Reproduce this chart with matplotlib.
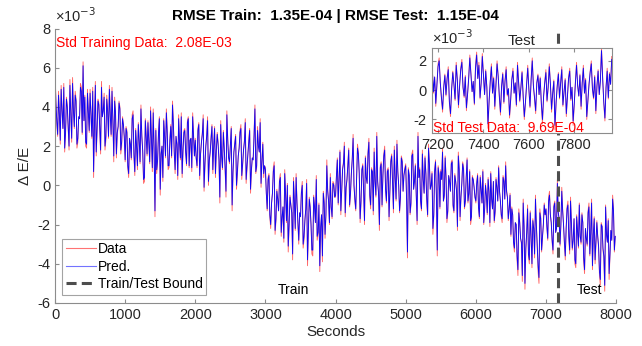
import matplotlib
matplotlib.use("Agg")
import matplotlib.pyplot as plt
import numpy as np

plt.rcParams['font.family'] = ['Liberation Sans', 'DejaVu Sans']
plt.rcParams['axes.unicode_minus'] = False

# values in units of 1e-3; *_vals sampled at 0, 25, 50 ... s, *_mid at 12.5, 37.5 ... s
data_vals = [
    6.0, 3.2, 4.8, 2.1, 3.9, 5.2, 2.6, 4.1, 1.8, 3.7, 5.5, 2.9, 4.4, 2.2, 3.4, 5.0, 6.3, 4.6, 1.9, 3.8,
    4.9, 2.4, 0.4, 5.3, 2.8, 4.2, 1.6, 3.5, 4.7, 2.3, 3.9, 5.1, 2.5, 3.3, 4.5, 1.4, 3.0, 4.0, 2.0, 3.1,
    1.2, 2.8, 0.4, 2.1, 3.6, 1.5, 2.9, 0.8, 2.3, 4.1, 1.7, 0.2, 2.6, 3.3, 1.1, 2.4, 3.9, -1.6, 0.6, 2.7,
    -0.5, 2.0, 3.4, 1.4, 2.8, 0.9, 3.1, 4.3, 1.6, 2.5, 0.3, 2.2, 3.7, 1.8, 2.9, 1.0, 3.5, 2.3, 0.7, 2.6,
    2.4, 0.9, 3.2, 1.6, 2.7, -0.3, 2.0, 3.5, 1.2, 2.5, 0.6, 3.0, 1.8, 2.2, -0.9, 1.5, 2.8, 0.8, 3.8, 1.4,
    2.1, -1.3, 1.7, 2.6, 0.5, 1.9, 3.1, 1.0, 2.3, 0.1, 1.6, 2.9, 0.7, 1.3, 4.1, 0.9, 2.0, 3.4, 1.2, 0.4,
    0.9, -1.3, 0.6, -2.2, -0.4, 1.2, -1.8, -0.7, 0.3, -2.6, -1.1, 0.8, -1.9, -3.4, -0.5, -1.4, 0.4, -2.3, -0.9, -3.0,
    -1.6, 0.2, -2.8, -1.2, -4.1, -0.6, -2.0, -3.6, -1.0, 0.5, -2.5, -4.4, -1.5, -0.3, -2.7, 1.3, -0.8, 0.6, -1.7, 0.1,
    -0.6, 1.4, 0.3, -1.5, 0.9, 2.2, -0.2, 1.1, -1.1, 0.6, 2.6, -0.8, 0.4, 1.7, -1.9, 0.8, -0.4, 1.5, 0.1, 2.4,
    -1.2, 0.7, 1.9, -0.6, 0.2, -2.3, 1.2, 0.5, 2.0, -0.9, 0.9, -0.3, 1.6, -1.4, 0.4, 2.3, 0.0, -0.7, 1.3, 0.6,
    1.1, -3.7, 0.5, -1.0, 1.8, 0.2, -0.5, 2.7, 0.9, -1.3, 0.3, 1.5, -0.8, 2.1, -0.2, 0.7, -1.6, 1.3, -3.6, 0.6,
    0.8, 1.9, -0.6, 0.4, -1.4, 0.2, 1.2, -1.1, 0.6, -0.3, 1.7, -1.8, 0.1, 0.9, -0.9, 1.4, -0.4, -2.0, 0.5, -0.1,
    -0.9, 0.6, -1.7, -0.2, 0.8, -1.3, -0.5, 0.4, -2.1, -0.7, 0.2, -1.4, -0.1, 1.0, -0.8, -1.9, 0.3, 1.2, -0.6, -1.2,
    -2.6, -1.5, -3.4, -2.0, -4.6, -1.8, -3.0, -0.7, -5.3, -2.4, -3.6, -1.3, -4.2, -2.2, -0.5, -3.1, -5.0, -1.6, -2.7, -0.9,
    -1.2, -2.8, -0.3, -1.9, -3.5, -0.8, -2.2, -1.4, -3.1, -0.1, -2.0, -3.8, -1.1, -2.6, -0.6, -3.3, -1.7, -4.2, -2.4, -0.9,
    -3.0, -1.9, -4.5, -2.7, -1.3, -3.6, -0.7, -2.5, -4.0, -1.8, -3.2, -5.1, -2.1, -3.7, -1.0, -2.9, -4.8, -2.3, -0.5, -3.4,
]
data_mid = [
    4.3, 2.5, 3.6, 5.1, 2.9, 1.7, 4.5, 3.0, 5.4, 2.2, 3.9, 4.8, 1.9, 3.5, 5.2, 2.6, 3.3, 2.0, 4.9, 2.7,
    3.6, 5.0, 3.1, 1.5, 4.4, 2.8, 5.3, 3.9, 1.8, 4.6, 2.4, 3.7, 5.0, 1.2, 3.8, 2.6, 4.3, 1.6, 3.5, 2.4,
    3.0, 0.9, 2.4, 1.3, 3.8, 0.5, 2.0, 3.2, 1.1, 2.6, 0.1, 3.4, 1.5, 2.2, 4.0, 0.7, 1.9, 2.9, 1.2, 3.5,
    1.6, 0.2, 2.5, 3.9, 0.8, 2.3, 1.4, 3.2, 0.6, 2.1, 3.6, 1.3, 0.4, 2.8, 1.7, 3.3, 0.9, 2.4, 3.7, 1.5,
    1.4, 2.9, 0.3, 2.2, 3.6, 1.0, 2.6, 0.0, 1.7, 3.1, 2.0, 0.4, 2.7, 1.3, 3.3, 0.8, 1.9, -0.6, 2.4, 1.1,
    3.0, 0.6, 2.2, -0.2, 1.5, 2.8, 0.3, 1.8, 3.4, 0.9, 2.3, -0.4, 1.4, 2.6, 0.6, 3.0, 1.7, -0.1, 2.2, 1.0,
    -0.4, 0.4, -1.6, -0.9, 0.9, -2.5, -0.2, -1.3, 0.6, -1.7, -2.9, -0.4, 0.1, -2.1, -1.0, -3.8, -0.7, 0.6, -2.0, -1.4,
    -0.3, -3.2, -1.8, 0.3, -2.4, -1.1, -3.5, -0.5, -1.9, -2.8, -0.9, -2.2, -3.9, -0.8, -1.5, -0.2, -2.0, -1.1, 0.2, -0.6,
    0.5, -1.0, 1.8, -0.3, 1.2, -1.6, 0.3, 1.9, -0.5, 1.4, 0.0, -1.3, 2.1, 0.6, -0.9, 1.1, -2.0, 0.4, 1.7, -0.6,
    0.9, -1.5, 0.2, 2.7, -0.4, 1.0, -1.1, 1.6, -0.2, 0.8, -1.8, 1.3, 0.1, 2.0, -0.8, 0.7, -1.4, 1.5, -0.3, 0.9,
    -0.7, 0.9, -1.5, 1.6, -0.2, 1.1, -2.0, 0.4, -0.9, 1.8, -0.4, 0.6, -1.6, 1.2, 0.0, -2.5, 0.8, -0.5, 1.0, -1.2,
    0.3, -0.8, 1.5, -1.9, 0.5, -0.3, 1.3, -1.4, 0.2, -2.3, 0.9, -0.6, 1.2, -1.2, 0.4, -0.9, 0.8, -1.7, 0.3, -0.6,
    0.2, -1.1, 0.5, -0.9, -2.0, 0.1, -1.5, -0.3, 0.7, -1.2, -1.9, 0.4, -0.8, -0.3, -1.6, 0.5, -0.7, -0.2, -1.8, -0.4,
    -1.1, -3.0, -1.9, -3.8, -1.2, -2.7, -4.9, -2.1, -3.3, -1.0, -4.0, -2.6, -1.7, -3.7, -2.0, -4.4, -1.2, -3.4, -2.0, -1.5,
    -2.1, -0.6, -1.5, -2.9, -1.0, -2.4, 0.3, -1.7, -2.0, -1.2, -3.0, -2.2, -0.8, -3.5, -1.9, -2.8, -4.0, -1.5, -3.2, -2.6,
    -1.4, -3.9, -2.2, -3.1, -0.9, -2.4, -4.3, -1.6, -3.0, -2.6, -4.6, -1.9, -3.3, -5.4, -2.5, -1.7, -3.6, -2.8, -1.2, -2.6,
]
pred_vals = [
    5.7, 3.3, 4.6, 2.3, 3.8, 5.0, 2.7, 4.0, 2.0, 3.6, 5.2, 3.0, 4.3, 2.4, 3.4, 4.8, 6.1, 4.5, 2.1, 3.7,
    4.7, 2.5, 0.7, 5.1, 2.9, 4.1, 1.8, 3.5, 4.5, 2.5, 3.8, 4.9, 2.6, 3.3, 4.3, 1.6, 3.0, 3.9, 2.2, 3.1,
    1.3, 2.7, 0.6, 2.1, 3.4, 1.6, 2.8, 1.0, 2.3, 3.9, 1.8, 0.4, 2.5, 3.2, 1.2, 2.4, 3.7, -1.3, 0.8, 2.6,
    -0.2, 2.0, 3.3, 1.5, 2.7, 1.0, 3.0, 4.1, 1.7, 2.5, 0.5, 2.2, 3.5, 1.8, 2.8, 1.1, 3.4, 2.3, 0.9, 2.5,
    2.3, 1.0, 3.1, 1.6, 2.6, -0.1, 2.0, 3.3, 1.3, 2.4, 0.8, 2.9, 1.8, 2.1, -0.6, 1.5, 2.7, 0.9, 3.6, 1.4,
    2.0, -1.0, 1.7, 2.5, 0.7, 1.9, 2.9, 1.1, 2.2, 0.3, 1.6, 2.8, 0.8, 1.3, 3.9, 1.0, 2.0, 3.2, 1.2, 0.6,
    0.8, -1.2, 0.5, -2.0, -0.4, 1.0, -1.7, -0.7, 0.2, -2.4, -1.1, 0.6, -1.8, -3.1, -0.6, -1.4, 0.2, -2.2, -0.9, -2.8,
    -1.6, 0.0, -2.6, -1.2, -3.8, -0.7, -2.0, -3.3, -1.1, 0.3, -2.4, -4.1, -1.5, -0.4, -2.5, 1.0, -0.8, 0.4, -1.6, 0.0,
    -0.5, 1.3, 0.3, -1.3, 0.8, 2.0, -0.1, 1.0, -1.0, 0.6, 2.4, -0.7, 0.4, 1.6, -1.7, 0.8, -0.3, 1.4, 0.1, 2.2,
    -1.0, 0.7, 1.7, -0.5, 0.2, -2.0, 1.1, 0.5, 1.8, -0.8, 0.8, -0.2, 1.5, -1.2, 0.4, 2.1, 0.0, -0.6, 1.2, 0.5,
    1.0, -3.4, 0.5, -0.9, 1.6, 0.2, -0.5, 2.5, 0.8, -1.2, 0.3, 1.4, -0.7, 1.9, -0.2, 0.6, -1.5, 1.2, -3.3, 0.5,
    0.7, 1.7, -0.5, 0.4, -1.3, 0.2, 1.1, -1.0, 0.5, -0.3, 1.5, -1.6, 0.1, 0.8, -0.8, 1.3, -0.4, -1.8, 0.4, -0.1,
    -0.8, 0.5, -1.6, -0.2, 0.7, -1.2, -0.5, 0.3, -1.9, -0.7, 0.2, -1.3, -0.1, 0.9, -0.8, -1.7, 0.2, 1.0, -0.6, -1.2,
    -2.5, -1.5, -3.2, -2.0, -4.3, -1.9, -2.9, -0.9, -5.0, -2.4, -3.5, -1.4, -4.0, -2.2, -0.7, -3.0, -4.7, -1.7, -2.6, -1.0,
    -1.2, -2.7, -0.5, -1.9, -3.3, -0.9, -2.2, -1.4, -3.0, -0.3, -2.0, -3.6, -1.2, -2.6, -0.8, -3.2, -1.7, -4.0, -2.4, -1.0,
    -2.9, -1.9, -4.3, -2.7, -1.4, -3.5, -0.9, -2.5, -3.8, -1.9, -3.1, -4.8, -2.1, -3.6, -1.1, -2.9, -4.5, -2.3, -0.7, -3.3,
]
pred_mid = [
    4.2, 2.6, 3.6, 4.9, 2.9, 1.9, 4.4, 3.0, 5.1, 2.4, 3.8, 4.6, 2.1, 3.5, 5.0, 2.7, 3.3, 2.2, 4.7, 2.8,
    3.6, 4.8, 3.1, 1.7, 4.3, 2.9, 5.0, 3.8, 2.0, 4.4, 2.5, 3.6, 4.8, 1.5, 3.7, 2.7, 4.2, 1.8, 3.4, 2.5,
    2.9, 1.0, 2.4, 1.4, 3.6, 0.7, 2.0, 3.1, 1.2, 2.5, 0.3, 3.3, 1.6, 2.2, 3.8, 0.9, 1.9, 2.8, 1.3, 3.4,
    1.6, 0.4, 2.5, 3.7, 1.0, 2.3, 1.5, 3.1, 0.8, 2.1, 3.4, 1.4, 0.6, 2.7, 1.7, 3.2, 1.0, 2.4, 3.5, 1.5,
    1.4, 2.8, 0.5, 2.2, 3.4, 1.1, 2.5, 0.2, 1.7, 3.0, 2.0, 0.6, 2.6, 1.3, 3.1, 0.9, 1.9, -0.3, 2.3, 1.2,
    2.9, 0.7, 2.1, 0.0, 1.5, 2.7, 0.5, 1.8, 3.2, 1.0, 2.2, -0.2, 1.4, 2.5, 0.7, 2.8, 1.7, 0.1, 2.1, 1.0,
    -0.4, 0.3, -1.5, -0.9, 0.7, -2.3, -0.3, -1.3, 0.4, -1.6, -2.7, -0.5, 0.0, -2.0, -1.0, -3.5, -0.8, 0.4, -1.9, -1.4,
    -0.4, -3.0, -1.8, 0.1, -2.3, -1.1, -3.3, -0.6, -1.9, -2.6, -1.0, -2.1, -3.6, -0.9, -1.5, -0.3, -1.9, -1.1, 0.1, -0.6,
    0.5, -0.9, 1.7, -0.3, 1.1, -1.4, 0.3, 1.8, -0.4, 1.3, 0.0, -1.2, 1.9, 0.6, -0.8, 1.0, -1.8, 0.4, 1.6, -0.5,
    0.8, -1.3, 0.2, 2.5, -0.4, 0.9, -1.0, 1.5, -0.2, 0.7, -1.6, 1.2, 0.1, 1.8, -0.7, 0.7, -1.3, 1.4, -0.3, 0.8,
    -0.7, 0.8, -1.4, 1.5, -0.2, 1.0, -1.8, 0.4, -0.8, 1.6, -0.4, 0.6, -1.5, 1.1, 0.0, -2.2, 0.7, -0.5, 0.9, -1.1,
    0.3, -0.8, 1.4, -1.7, 0.5, -0.3, 1.2, -1.3, 0.2, -2.1, 0.8, -0.6, 1.1, -1.1, 0.4, -0.8, 0.7, -1.6, 0.3, -0.6,
    0.1, -1.1, 0.4, -0.9, -1.9, 0.0, -1.4, -0.3, 0.6, -1.2, -1.8, 0.3, -0.8, -0.3, -1.5, 0.4, -0.7, -0.3, -1.7, -0.5,
    -1.2, -2.9, -1.9, -3.6, -1.4, -2.7, -4.6, -2.1, -3.2, -1.2, -3.8, -2.6, -1.8, -3.5, -2.0, -4.1, -1.4, -3.3, -2.0, -1.5,
    -2.1, -0.8, -1.5, -2.8, -1.1, -2.4, 0.1, -1.7, -2.0, -1.3, -2.9, -2.2, -1.0, -3.3, -1.9, -2.8, -3.8, -1.6, -3.1, -2.6,
    -1.5, -3.7, -2.2, -3.0, -1.1, -2.4, -4.1, -1.7, -2.9, -2.6, -4.4, -2.0, -3.2, -5.1, -2.5, -1.8, -3.5, -2.8, -1.3, -2.6,
]
# merge the two sample grids in time order
data_all = np.column_stack([data_vals, data_mid]).ravel()
pred_all = np.column_stack([pred_vals, pred_mid]).ravel()
seconds = np.arange(len(data_all)) * 12.5

# test window (detrended), every 5 s from 7170 s, units of 1e-3
test_data = [
    0.6, 1.4, -0.2, 0.9, -1.1, 0.3, 1.8, 2.2, 0.5, -0.6, -1.5, 0.2, 1.1, -0.4, 0.8, 1.6, -0.9, -1.8, 0.1, 1.3,
    0.4, -0.7, 1.9, 0.7, -1.2, 0.3, 1.5, 2.1, 0.2, -0.5, 1.0, -1.4, -0.3, 0.9, 2.4, 1.2, -0.1, 0.6, -1.0, 1.7,
    2.6, 0.8, 1.9, -0.6, 0.5, 2.5, 1.1, -0.3, 1.4, 0.2, -2.6, -0.8, 0.6, 1.8, -0.2, 0.9, -1.3, 0.4, 2.0, 1.0,
    -0.5, -1.7, 0.3, 1.2, -0.9, 0.7, 1.6, -0.4, 0.1, -1.9, -0.7, 0.8, 1.5, -0.2, 0.5, -1.1, 1.9, 0.6, -0.8, 0.2,
    1.3, -0.5, -2.0, -0.9, 0.4, 1.7, 0.1, -1.2, 0.8, 2.2, 0.3, -0.6, -1.6, 0.5, 1.1, -0.3, 0.9, -1.0, -2.3, -0.4,
    0.6, 1.4, -0.8, 0.2, 1.8, 0.4, -1.5, -0.2, 0.7, -2.7, -0.9, 0.3, 1.2, -0.6, 0.5, 1.6, -1.1, -0.1, 0.8, -1.8,
    -0.5, 0.9, 1.5, -0.7, 0.2, -2.4, -1.0, 0.6, 1.9, 0.3, -0.4, 1.1, -1.3, 0.5, 1.7, -0.2, 0.8, -2.0, -0.8, 0.4,
    1.3, 2.0, 0.1, -0.6, 1.0, -1.6, 0.3, 1.4, -0.3, 0.7, 2.9, 0.9, -0.9, -2.1, 0.2, 1.5, -0.6, 1.2, 0.4, 2.3,
]
test_pred = [
    0.6, 1.3, -0.1, 0.9, -0.9, 0.3, 1.6, 2.0, 0.5, -0.5, -1.3, 0.2, 1.0, -0.3, 0.8, 1.4, -0.8, -1.6, 0.1, 1.2,
    0.4, -0.6, 1.7, 0.7, -1.0, 0.3, 1.4, 1.9, 0.2, -0.4, 0.9, -1.2, -0.3, 0.8, 2.2, 1.1, -0.1, 0.6, -0.9, 1.5,
    2.4, 0.8, 1.7, -0.5, 0.5, 2.3, 1.0, -0.3, 1.3, 0.2, -2.3, -0.7, 0.6, 1.6, -0.2, 0.8, -1.1, 0.4, 1.8, 0.9,
    -0.4, -1.5, 0.3, 1.1, -0.8, 0.6, 1.4, -0.3, 0.1, -1.7, -0.6, 0.7, 1.3, -0.2, 0.5, -1.0, 1.7, 0.5, -0.7, 0.2,
    1.2, -0.4, -1.8, -0.8, 0.4, 1.5, 0.1, -1.1, 0.7, 2.0, 0.3, -0.5, -1.4, 0.5, 1.0, -0.3, 0.8, -0.9, -2.0, -0.4,
    0.5, 1.2, -0.7, 0.2, 1.6, 0.4, -1.3, -0.2, 0.6, -2.4, -0.8, 0.3, 1.1, -0.5, 0.5, 1.4, -1.0, -0.1, 0.7, -1.6,
    -0.4, 0.8, 1.3, -0.6, 0.2, -2.1, -0.9, 0.5, 1.7, 0.3, -0.4, 1.0, -1.1, 0.5, 1.5, -0.2, 0.7, -1.8, -0.7, 0.4,
    1.2, 1.8, 0.1, -0.5, 0.9, -1.4, 0.3, 1.3, -0.3, 0.6, 2.7, 0.8, -0.8, -1.9, 0.2, 1.3, -0.5, 1.1, 0.4, 2.1,
]
bound = 7170
test_seconds = bound + np.arange(len(test_data)) * 5

title = "RMSE Train:  1.35E-04 | RMSE Test:  1.15E-04"
std_train = "Std Training Data:  2.08E-03"
std_test = "Std Test Data:  9.69E-04"

AX_GRAY = '#8c8c8c'
TXT = '#262626'


def style_ax(ax, box=False):
    for side in ['left', 'bottom', 'top', 'right']:
        ax.spines[side].set_color(AX_GRAY)
        ax.spines[side].set_linewidth(0.8)
    if not box:
        ax.spines['top'].set_visible(False)
        ax.spines['right'].set_visible(False)
    ax.tick_params(direction='in', color=AX_GRAY, labelcolor=TXT, length=3,
                   top=box, right=box, labelsize=10.5)


fig = plt.figure(figsize=(6.42, 3.46), dpi=100)
ax = fig.add_axes([0.0857, 0.1243, 0.874, 0.7933])

ax.plot(seconds, data_all, color='red', lw=0.65, alpha=0.6, label='Data')
ax.plot(seconds, pred_all, color='blue', lw=0.65, alpha=0.95, label='Pred.')
ax.axvline(bound, color='#4d4d4d', lw=2.2, dashes=(3.3, 1.7), label='Train/Test Bound')

ax.set_xlim(0, 8000)
ax.set_ylim(-6, 8)
ax.set_xticks(np.arange(0, 8001, 1000))
ax.set_yticks(np.arange(-6, 9, 2))
style_ax(ax)
ax.set_xlabel("Seconds", fontsize=11, color=TXT, labelpad=2)
ax.set_ylabel("\u0394 E/E", fontsize=11, color=TXT, labelpad=4)
ax.set_title(title, fontsize=11, fontweight='bold', pad=6)
ax.text(0.0, 1.012, "\u00d710$^{-3}$", transform=ax.transAxes, fontsize=10.5, color=TXT,
        ha='left', va='bottom')
ax.text(0.002, 0.948, std_train, transform=ax.transAxes, fontsize=10, color='red',
        ha='left', va='center')
ax.text(3400, -5.35, "Train", fontsize=10, ha='center', va='center')
ax.text(7615, -5.35, "Test", fontsize=10, ha='center', va='center')

leg = ax.legend(loc='lower left', bbox_to_anchor=(0.013, 0.03), fontsize=10, frameon=True,
                fancybox=False, handlelength=2.2, borderpad=0.25, labelspacing=0.25,
                handletextpad=0.1, borderaxespad=0)
leg.get_frame().set_edgecolor(AX_GRAY)
leg.get_frame().set_linewidth(0.8)
for line in leg.get_lines()[:2]:
    line.set_alpha(0.55)
    line.set_linewidth(0.8)

# inset with the test window
ins = fig.add_axes([0.6724, 0.6165, 0.2808, 0.2457])
ins.plot(test_seconds, test_data, color='red', lw=0.65, alpha=0.6)
ins.plot(test_seconds, test_pred, color='blue', lw=0.65, alpha=0.95)
ins.set_xlim(7172, 7966)
ins.set_ylim(-2.9, 2.9)
ins.set_xticks([7200, 7400, 7600, 7800])
ins.set_yticks([-2, 0, 2])
style_ax(ins, box=True)
ins.set_title("Test", fontsize=11, pad=2, color=TXT)
ins.text(0.0, 1.01, "\u00d710$^{-3}$", transform=ins.transAxes, fontsize=10.5, color=TXT,
         ha='left', va='bottom')
ins.text(0.005, 0.06, std_test, transform=ins.transAxes, fontsize=10, color='red',
         ha='left', va='center')

fig.savefig("out.png", dpi=100)
